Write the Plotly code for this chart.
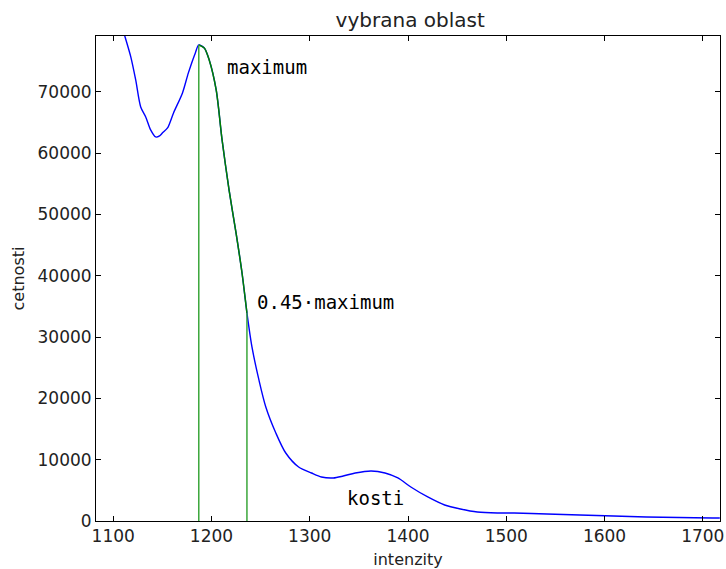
import plotly.graph_objects as go

# Histogram of intensities in the selected region (counts per intensity value)
intensity = [
    1082.5, 1091.6, 1101.7, 1111.8, 1117.9, 1122.9, 1128.0, 1133.1, 1138.1,
    1143.2, 1147.2, 1150.2, 1155.3, 1161.4, 1170.5, 1176.5, 1183.6, 1187.1,
    1192.7, 1197.7, 1204.8, 1210.8, 1217.9, 1225.0, 1231.1, 1235.1, 1236.1,
    1241.2, 1248.3, 1255.3, 1265.5, 1275.6, 1288.7, 1301.8, 1311.9, 1324.0,
    1334.1, 1346.3, 1362.5, 1376.6, 1389.7, 1402.9, 1420.1, 1437.3, 1453.4,
    1470.6, 1490.9, 1508.0, 1541.4, 1574.7, 1609.1, 1642.5, 1675.8, 1710.2,
    1717.3,
]
counts = [
    93000, 90200, 84700, 79130, 75710, 71950, 67550, 65920, 63800,
    62650, 62820, 63320, 64120, 66570, 69830, 73100, 76360, 77660,
    77170, 75220, 70320, 62160, 54010, 46990, 40460, 35240, 33940,
    28390, 23010, 18600, 14360, 11090, 8810, 7830, 7180, 7020,
    7340, 7830, 8160, 7830, 7020, 5550, 3920, 2610, 1960,
    1470, 1310, 1300, 1140, 980, 820, 650, 570, 490,
    480,
]

x_ticks = [1100, 1200, 1300, 1400, 1500, 1600, 1700]
y_ticks = [0, 10000, 20000, 30000, 40000, 50000, 60000, 70000]
x_range = [1082.5, 1717.5]
y_range = [0, 79120]

fraction = 0.45

# Locate the histogram maximum (the soft-tissue peak) and the first bin after it
# that falls below fraction * maximum.
i_peak = max(range(len(counts)), key=lambda i: counts[i] if intensity[i] > 1160 else -1)
peak_val = counts[i_peak]
i_thr = next(i for i in range(i_peak, len(counts)) if counts[i] < fraction * peak_val)

fig = go.Figure()

fig.add_trace(go.Scatter(
    x=intensity, y=counts, mode="lines",
    line=dict(color="#0000ff", width=1.4, shape="spline", smoothing=0.8),
    hoverinfo="skip", showlegend=False,
))

# highlighted descending flank between the maximum and the threshold
fig.add_trace(go.Scatter(
    x=intensity[i_peak:i_thr + 1], y=counts[i_peak:i_thr + 1], mode="lines",
    line=dict(color="#008000", width=1.5, shape="spline", smoothing=0.8),
    hoverinfo="skip", showlegend=False,
))

# vertical markers at the maximum and at the threshold
for i in (i_peak, i_thr):
    fig.add_trace(go.Scatter(
        x=[intensity[i], intensity[i]], y=[0, counts[i]], mode="lines",
        line=dict(color="#2ca02c", width=1.4),
        hoverinfo="skip", showlegend=False,
    ))

mono = dict(family="DejaVu Sans Mono", size=19, color="black")
labels = [
    (1213.9, 74070, "maximum"),
    (1244.2, 35730, "0.45·maximum"),
    (1336.2, 3750, "kosti"),
]
for lx, ly, txt in labels:
    fig.add_annotation(x=lx, y=ly, text=txt, showarrow=False,
                       xanchor="left", yanchor="middle", font=mono)

axis_common = dict(
    showline=True, linecolor="black", linewidth=1, mirror="ticks",
    ticks="inside", ticklen=5, tickcolor="black", showgrid=False,
    zeroline=False, ticklabeloverflow="allow",
    tickfont=dict(family="DejaVu Sans", size=17, color="#222"),
)

fig.update_layout(
    width=726, height=569,
    margin=dict(l=96, r=2, t=36, b=48),
    paper_bgcolor="white", plot_bgcolor="white",
    title=dict(text="vybrana oblast", x=0.565, xanchor="center",
               y=1 - 20 / 569, yanchor="middle",
               font=dict(family="DejaVu Sans", size=20, color="#222")),
    xaxis=dict(range=x_range, tickvals=x_ticks, ticktext=[str(v) for v in x_ticks],
               **axis_common,
               title=dict(text="intenzity", standoff=8,
                          font=dict(family="DejaVu Sans", size=16, color="#222"))),
    yaxis=dict(range=y_range, tickvals=y_ticks, ticktext=[str(v) for v in y_ticks],
               **axis_common,
               title=dict(text="cetnosti", standoff=8,
                          font=dict(family="DejaVu Sans", size=16, color="#222"))),
)

fig.write_html("out.html")
